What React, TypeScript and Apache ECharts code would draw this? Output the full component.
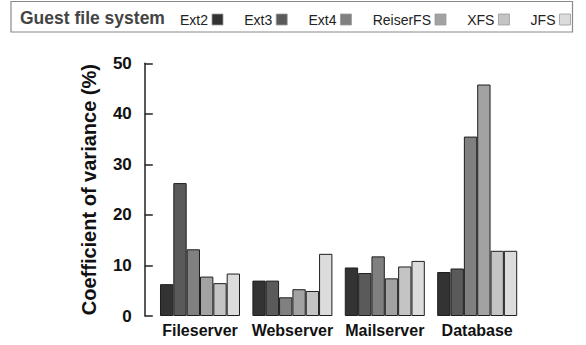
import React, { useEffect, useRef } from "react";
import * as echarts from "echarts";

const categories = ["Fileserver", "Webserver", "Mailserver", "Database"];
const seriesNames = ["Ext2", "Ext3", "Ext4", "ReiserFS", "XFS", "JFS"];
const ext2 = [6.3, 7.0, 9.6, 8.7];
const ext3 = [26.3, 7.0, 8.5, 9.4];
const ext4 = [13.2, 3.7, 11.8, 35.5];
const reiserfs = [7.8, 5.3, 7.45, 45.8];
const xfs = [6.5, 4.95, 9.8, 12.9];
const jfs = [8.4, 12.3, 10.9, 12.9];
const seriesValues = [ext2, ext3, ext4, reiserfs, xfs, jfs];
const colors = ["#333333", "#5a5a5a", "#808080", "#a2a2a2", "#c4c4c4", "#dcdcdc"];
const yTicks = [0, 10, 20, 30, 40, 50];

export default function App() {
  const ref = useRef<HTMLDivElement>(null);
  useEffect(() => {
    document.body.style.margin = "0";
    const chart = echarts.init(ref.current!, undefined, { renderer: "svg" });
    chart.setOption({
      animation: false,
      backgroundColor: "#ffffff",
      textStyle: { fontFamily: "Liberation Sans" },
      graphic: [
        {
          type: "rect",
          shape: { x: 11, y: 1.5, width: 561.5, height: 30.5 },
          style: { fill: "none", stroke: "#8a8a8a", lineWidth: 1.2 },
          silent: true,
        },
      ],
      title: {
        text: "Guest file system",
        left: 20,
        top: 8.5,
        padding: 0,
        textStyle: {
          fontFamily: "Liberation Sans",
          fontWeight: "bold",
          fontSize: 17.5,
          color: "#444444",
        },
      },
      legend: {
        data: seriesNames,
        left: 180,
        top: 12.5,
        padding: 0,
        align: "right",
        itemWidth: 11,
        itemHeight: 11,
        itemGap: 20.8,
        icon: "rect",
        textStyle: {
          fontFamily: "Liberation Sans",
          fontSize: 14,
          color: "#222222",
          padding: [0, -1, 0, 0],
        },
        itemStyle: { borderColor: "#9a9a9a", borderWidth: 0.8 },
      },
      grid: { left: 153.8, right: 62.6, top: 63.3, bottom: 29 },
      xAxis: {
        type: "category",
        data: categories,
        axisLine: { show: false },
        axisTick: { show: false },
        axisLabel: {
          interval: 0,
          fontFamily: "Liberation Sans",
          fontWeight: "bold",
          fontSize: 16,
          color: "#111111",
          margin: 6,
        },
      },
      yAxis: {
        type: "value",
        min: 0,
        max: 50,
        interval: 10,
        offset: 9,
        name: "Coefficient of variance (%)",
        nameLocation: "middle",
        nameGap: 46,
        nameTextStyle: {
          fontFamily: "Liberation Sans",
          fontWeight: "bold",
          fontSize: 20,
          color: "#111111",
        },
        axisLine: { show: true, lineStyle: { color: "#222222", width: 1.5 } },
        axisTick: { show: true, inside: true, length: 8, lineStyle: { color: "#222222", width: 1.5 } },
        splitLine: { show: false },
        axisLabel: {
          fontFamily: "Liberation Sans",
          fontWeight: "bold",
          fontSize: 17,
          color: "#111111",
          margin: 13,
          formatter: (v: number) => (yTicks.includes(v) ? String(v) : ""),
        },
      },
      series: seriesNames.map((name, i) => ({
        name,
        type: "bar",
        data: seriesValues[i],
        barGap: "0%",
        barCategoryGap: "13.4%",
        itemStyle: { color: colors[i], borderColor: "#1e1e1e", borderWidth: 1 },
      })),
    });
    return () => chart.dispose();
  }, []);
  return (
    <div
      ref={ref}
      style={{ position: "absolute", left: 0, top: 0, width: 586, height: 345 }}
    />
  );
}
